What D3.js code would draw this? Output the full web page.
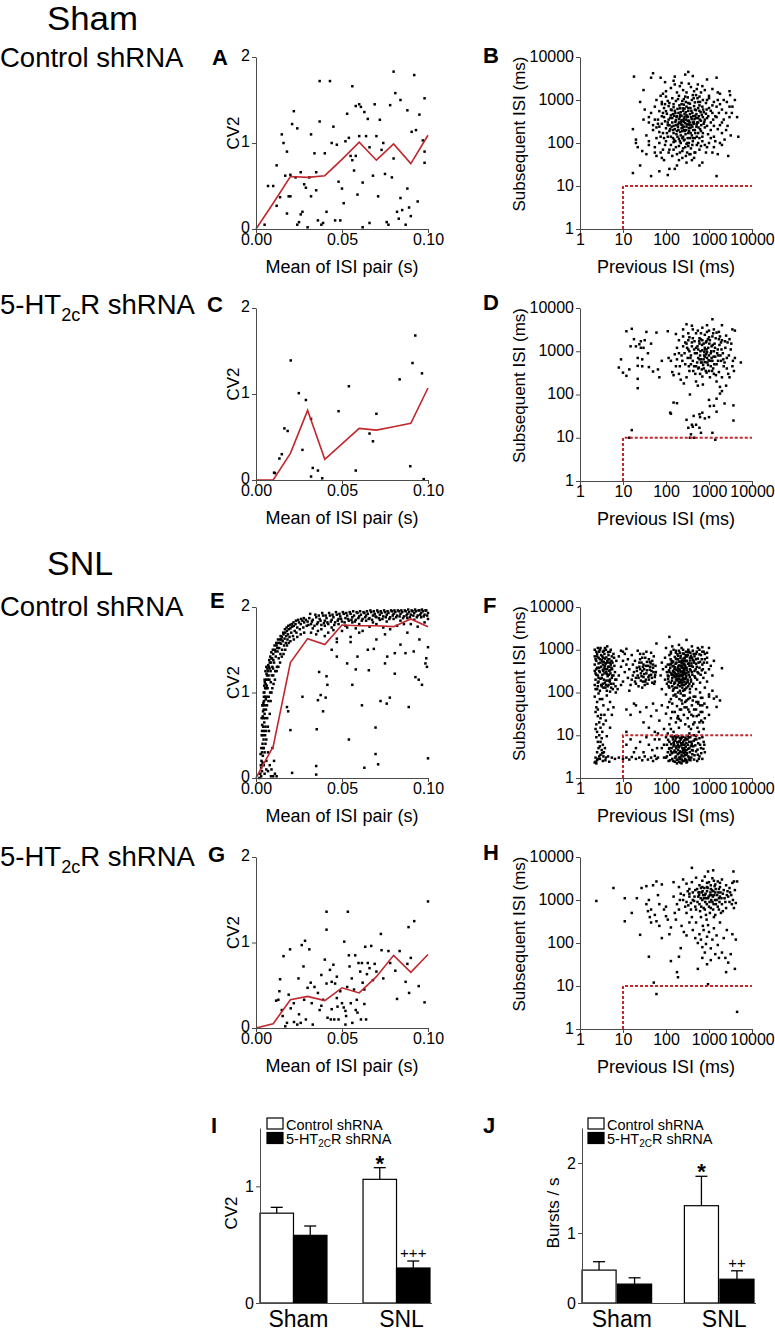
<!DOCTYPE html>
<html><head><meta charset="utf-8">
<script src="https://cdn.jsdelivr.net/npm/d3@7"></script>
<style>
body{margin:0;background:#fff;}
text{font-family:"Liberation Sans",Arial,Helvetica,sans-serif;}
</style></head><body>
<script>
// ---------------- DATA ----------------
const meanTicks = [0, 0.05, 0.1];
const cvTicks = [0, 1, 2];
const logTicks = [1, 10, 100, 1000, 10000];
const thresholdISI = 10; // ms, dashed red burst criterion

// Panel A: Sham, control shRNA (mean ISI pair s, CV2)
const shamCtrlCV2 = [[0.005,0.05],[0.007,0.5],[0.010,0.5],[0.012,0.27],[0.012,0.74],[0.014,0.37],[0.015,1.1],[0.016,1.0],[0.018,0.18],[0.018,0.9],[0.019,0.38],[0.020,0.38],[0.020,0.63],[0.021,1.22],[0.022,1.37],[0.023,0.6],[0.024,0.05],[0.024,1.17],[0.025,0.08],[0.026,0.66],[0.026,0.17],[0.027,0.2],[0.028,0.52],[0.029,0.48],[0.030,0.02],[0.031,0.6],[0.032,0.38],[0.032,1.1],[0.034,0.88],[0.035,0.66],[0.036,0.1],[0.037,1.25],[0.037,1.72],[0.038,0.05],[0.039,0.07],[0.040,0.88],[0.043,1.72],[0.044,1.0],[0.045,1.19],[0.046,0.1],[0.047,0.98],[0.048,0.55],[0.049,0.1],[0.050,0.47],[0.052,1.02],[0.053,1.34],[0.054,1.06],[0.055,0.85],[0.056,1.66],[0.056,0.8],[0.057,0.68],[0.058,1.43],[0.058,0.85],[0.059,0.4],[0.060,1.45],[0.060,1.08],[0.061,1.42],[0.062,0.54],[0.062,0.02],[0.063,1.36],[0.064,1.08],[0.065,1.28],[0.066,0.07],[0.068,0.62],[0.069,1.45],[0.070,1.08],[0.071,0.38],[0.072,1.27],[0.073,0.92],[0.074,1.0],[0.075,0.64],[0.076,0.08],[0.077,0.05],[0.078,1.44],[0.080,1.83],[0.080,0.82],[0.081,1.58],[0.082,0.2],[0.083,0.12],[0.084,1.5],[0.084,0.36],[0.085,0.22],[0.087,0.05],[0.088,1.38],[0.088,0.47],[0.089,0.25],[0.090,0.15],[0.0905,1.13],[0.092,1.79],[0.093,1.15],[0.094,0.32],[0.095,1.33],[0.097,1.03],[0.098,1.52],[0.098,0.9],[0.098,0.77],[0.079,0.6],[0.066,0.95],[0.051,0.3],[0.041,0.2],[0.035,0.45],[0.017,0.62]];
const shamCtrlLine = [[0,0],[0.01,0.3],[0.02,0.61],[0.03,0.6],[0.04,0.62],[0.05,0.81],[0.06,1.01],[0.07,0.8],[0.08,0.99],[0.09,0.76],[0.10,1.09]];

// Panel C: Sham, 5-HT2cR shRNA
const shamShCV2 = [[0.0105,0.085],[0.011,0.08],[0.0136,0.25],[0.015,0.30],[0.0165,0.60],[0.0184,0.57],[0.0202,1.39],[0.0249,1.01],[0.027,0.35],[0.029,0.93],[0.032,0.71],[0.032,0.04],[0.033,0.14],[0.036,0.11],[0.0385,0.02],[0.048,0.80],[0.054,1.09],[0.058,0.11],[0.066,0.54],[0.068,0.45],[0.070,0.77],[0.0835,1.17],[0.0897,0.16],[0.091,1.36],[0.0926,1.68],[0.0965,1.24],[0.0975,0.01]];
const shamShLine = [[0,0],[0.01,0],[0.02,0.31],[0.03,0.81],[0.04,0.24],[0.05,0.42],[0.06,0.6],[0.07,0.58],[0.08,0.62],[0.09,0.66],[0.10,1.07]];

// Panel E: SNL, control shRNA
const snlCtrlCV2 = [[0.002,0.0],[0.0025,0.05],[0.003,0.02],[0.003,0.12],[0.0032,0.2],[0.0035,0.08],[0.0035,0.3],[0.0038,0.4],[0.0038,0.18],[0.004,0.5],[0.004,0.26],[0.0042,0.6],[0.0042,0.35],[0.0044,0.7],[0.0044,0.45],[0.0045,0.8],[0.0046,0.55],[0.0047,0.9],[0.0048,0.65],[0.0049,1.0],[0.005,0.75],[0.005,0.3],[0.0052,0.85],[0.0053,1.05],[0.0054,0.95],[0.0055,0.6],[0.0056,1.1],[0.0058,0.8],[0.006,1.15],[0.006,0.45],[0.0062,0.95],[0.0064,1.2],[0.0065,0.7],[0.0067,1.05],[0.007,1.25],[0.0072,0.9],[0.0075,1.3],[0.0078,1.15],[0.008,1.35],[0.0082,1.0],[0.0085,1.25],[0.009,1.4],[0.0092,1.2],[0.0095,1.3],[0.01,1.45],[0.0102,1.1],[0.0105,1.35],[0.011,1.5],[0.0112,1.25],[0.0115,1.42],[0.012,1.55],[0.0122,1.3],[0.0125,1.48],[0.013,1.58],[0.0132,1.4],[0.0135,1.52],[0.014,1.62],[0.0142,1.45],[0.0145,1.57],[0.015,1.65],[0.0152,1.5],[0.0155,1.6],[0.016,1.68],[0.0163,1.55],[0.0166,1.63],[0.017,1.7],[0.0173,1.58],[0.0176,1.66],[0.018,1.72],[0.0183,1.62],[0.0186,1.68],[0.019,1.74],[0.0195,1.65],[0.02,1.75],[0.0205,1.7],[0.021,1.77],[0.0215,1.66],[0.022,1.78],[0.0225,1.72],[0.023,1.8],[0.0235,1.7],[0.024,1.76],[0.025,1.82],[0.0255,1.74],[0.026,1.8],[0.027,1.84],[0.0275,1.76],[0.028,1.82],[0.029,1.85],[0.0295,1.78],[0.03,1.83],
[0.006,0.1],[0.007,0.3],[0.0075,0.55],[0.008,0.75],[0.0085,0.9],[0.009,1.0],[0.0095,1.05],[0.01,1.2],[0.011,1.15],[0.012,1.25],[0.013,1.3],[0.014,1.35],[0.015,1.42],[0.016,1.45],[0.017,1.5],[0.018,1.55],[0.019,1.58],[0.02,1.6],[0.022,1.62],[0.024,1.65],[0.026,1.68],[0.028,1.7],[0.009,0.1],[0.01,0.02],[0.011,0.05],[0.008,0.15],[0.007,0.08],[0.0105,0.2],[0.0095,0.35],[0.005,0.05],[0.006,0.2],[0.0045,0.15],[0.0055,0.4],[0.0035,0.55],[0.004,0.85],[0.0045,1.0],[0.005,1.15],[0.0055,1.25],[0.006,1.3],
[0.0028,0.15],[0.0031,0.35],[0.0033,0.5],[0.0036,0.62],[0.0039,0.72],[0.0041,0.78],[0.0043,0.88],[0.0046,0.95],[0.0048,1.08],[0.0051,1.12],[0.0053,0.5],[0.0057,0.92],[0.0059,1.05],[0.0061,1.22],[0.0063,1.08],[0.0066,1.28],[0.0068,1.15],[0.0071,1.32],[0.0073,1.2],[0.0077,1.38],[0.0079,1.28],[0.0083,1.42],[0.0087,1.35],[0.0089,1.47],[0.0093,1.4],[0.0098,1.5],[0.0101,1.38],[0.0108,1.55],[0.0113,1.48],[0.0118,1.58],[0.0124,1.52],[0.0128,1.62],[0.0138,1.58],[0.0143,1.66],[0.0148,1.62],[0.0158,1.7],[0.0168,1.74],[0.0178,1.76],[0.0188,1.78],[0.0198,1.79],[0.0208,1.8],[0.0218,1.82],[0.0232,1.84],[0.0245,1.85],[0.0262,1.86],[0.0278,1.87],[0.0045,0.35],[0.0052,0.7],[0.0058,0.55],[0.0064,0.85],[0.0069,0.6],[0.0074,0.95],[0.0086,1.12],[0.0099,1.28],[0.0033,0.7],[0.0037,0.85],[0.0027,0.28],
[0.031,1.87],[0.032,1.8],[0.033,1.85],[0.034,1.78],[0.035,1.88],[0.036,1.82],[0.037,1.86],[0.038,1.79],[0.039,1.9],[0.04,1.84],[0.041,1.87],[0.042,1.8],[0.043,1.9],[0.044,1.85],[0.045,1.88],[0.046,1.82],[0.047,1.91],[0.048,1.86],[0.049,1.89],[0.05,1.83],[0.051,1.92],[0.052,1.87],[0.053,1.9],[0.054,1.84],[0.055,1.92],[0.056,1.88],[0.057,1.9],[0.058,1.85],[0.059,1.93],[0.06,1.89],[0.061,1.91],[0.062,1.86],[0.063,1.93],[0.064,1.9],[0.065,1.92],[0.066,1.87],[0.067,1.94],[0.068,1.9],[0.069,1.92],[0.07,1.88],[0.071,1.94],[0.072,1.91],[0.073,1.93],[0.074,1.89],[0.075,1.94],[0.076,1.91],[0.077,1.93],[0.078,1.88],[0.079,1.95],[0.08,1.92],[0.081,1.94],[0.082,1.9],[0.083,1.95],[0.084,1.92],[0.085,1.94],[0.086,1.89],[0.087,1.95],[0.088,1.92],[0.089,1.94],[0.09,1.91],[0.091,1.95],[0.092,1.93],[0.093,1.95],[0.094,1.9],[0.095,1.96],[0.096,1.93],[0.097,1.95],[0.098,1.91],[0.099,1.96],[0.1,1.93],
[0.0305,1.79],[0.0315,1.92],[0.0325,1.83],[0.0345,1.91],[0.0355,1.8],[0.0365,1.9],[0.0375,1.84],[0.0385,1.93],[0.0395,1.81],[0.0405,1.9],[0.0415,1.82],[0.0425,1.93],[0.0435,1.83],[0.0445,1.91],[0.0455,1.79],[0.0465,1.94],[0.0475,1.84],[0.0485,1.92],[0.0495,1.86],[0.0505,1.94],[0.0515,1.82],[0.0525,1.93],[0.0535,1.86],[0.0545,1.94],[0.0555,1.85],[0.0565,1.95],[0.0575,1.83],[0.0585,1.94],[0.0595,1.87],[0.0605,1.95],[0.0615,1.84],[0.0625,1.94],[0.0635,1.88],[0.0645,1.95],[0.0655,1.86],[0.0665,1.96],[0.0675,1.85],[0.0685,1.95],[0.0695,1.89],[0.0705,1.96],[0.0715,1.87],[0.0725,1.95],[0.0735,1.86],[0.0745,1.96],[0.0755,1.88],[0.0765,1.95],[0.0775,1.86],[0.0785,1.96],[0.0795,1.9],[0.0805,1.96],[0.0815,1.88],[0.0825,1.96],[0.0835,1.89],[0.0845,1.96],[0.0855,1.87],[0.0865,1.96],[0.0875,1.9],[0.0885,1.97],[0.0895,1.88],[0.0905,1.96],[0.0915,1.9],[0.0925,1.97],[0.0935,1.88],[0.0945,1.96],[0.0955,1.91],[0.0965,1.97],[0.0975,1.89],[0.0985,1.96],[0.0995,1.9],
[0.033,1.75],[0.036,1.72],[0.04,1.78],[0.044,1.76],[0.048,1.8],[0.052,1.78],[0.056,1.82],[0.06,1.8],[0.064,1.84],[0.068,1.82],[0.072,1.85],[0.076,1.83],[0.08,1.86],[0.084,1.84],[0.088,1.87],[0.092,1.85],[0.096,1.88],[0.1,1.86],[0.035,1.68],[0.042,1.7],[0.05,1.72],[0.058,1.75],[0.066,1.77],[0.074,1.76],[0.082,1.78],[0.09,1.8],[0.098,1.82],
[0.032,1.7],[0.038,1.74],[0.045,1.73],[0.053,1.76],[0.062,1.72],[0.07,1.8],[0.078,1.74],[0.086,1.8],[0.094,1.77],[0.04,1.66],[0.055,1.65],[0.06,1.7],[0.075,1.68],[0.088,1.7],[0.095,1.62],[0.07,1.62],[0.047,1.63],
[0.0087,0.02],[0.012,0.02],[0.021,0.06],[0.018,0.83],[0.020,0.56],[0.0187,0.78],[0.027,0.95],[0.035,0.14],[0.035,0.04],[0.0353,0.57],[0.0367,1.24],[0.0376,0.97],[0.036,0.91],[0.039,0.78],[0.0405,0.94],[0.041,1.19],[0.0415,1.09],[0.047,1.42],[0.053,1.34],[0.054,0.45],[0.056,1.09],[0.058,1.27],[0.059,1.42],[0.0616,0.85],[0.063,0.12],[0.065,1.5],[0.0656,1.26],[0.0695,0.28],[0.0695,0.59],[0.071,0.16],[0.0724,0.9],[0.075,1.34],[0.076,0.87],[0.0763,1.42],[0.0778,0.94],[0.0807,1.22],[0.0807,1.46],[0.0869,1.46],[0.0888,0.83],[0.0917,1.48],[0.0927,1.18],[0.0946,1.15],[0.0965,1.09],[0.0985,1.34],[0.0994,1.30],[0.1,0.23],[0.1,1.53],[0.099,1.4],[0.084,1.56],[0.0685,1.51],[0.055,1.59],[0.047,1.59],[0.044,1.5]];
const snlCtrlLine = [[0,0],[0.01,0.37],[0.02,1.35],[0.03,1.63],[0.04,1.56],[0.05,1.79],[0.06,1.78],[0.07,1.78],[0.08,1.77],[0.09,1.86],[0.10,1.77]];

// Panel G: SNL, 5-HT2cR shRNA
const snlShCV2 = [[0.014,0.57],[0.0136,0.43],[0.0117,0.32],[0.013,0.33],[0.015,0.21],[0.0155,0.14],[0.016,0.84],[0.017,0.02],[0.018,0.06],[0.0198,0.92],[0.019,0.39],[0.0202,0.23],[0.022,0.29],[0.0221,0.07],[0.024,0.04],[0.0247,0.58],[0.0266,0.97],[0.0276,0.72],[0.0285,1.02],[0.028,0.33],[0.029,0.10],[0.030,0.47],[0.031,0.92],[0.0318,0.53],[0.0324,0.29],[0.033,0.04],[0.036,0.41],[0.037,0.21],[0.038,0.26],[0.039,0.33],[0.040,0.80],[0.041,1.15],[0.041,1.36],[0.041,0.52],[0.0416,0.12],[0.043,0.68],[0.0435,0.10],[0.044,0.54],[0.045,0.74],[0.0455,0.10],[0.046,0.52],[0.047,0.60],[0.0474,0.25],[0.048,0.10],[0.049,0.43],[0.050,0.29],[0.051,0.24],[0.0513,1.01],[0.052,0.04],[0.0524,0.14],[0.053,0.48],[0.0534,1.36],[0.054,0.85],[0.0544,0.72],[0.0551,0.29],[0.0557,0.58],[0.056,0.06],[0.057,0.45],[0.0577,0.85],[0.058,0.21],[0.0586,0.33],[0.0596,0.76],[0.0606,0.66],[0.061,0.10],[0.0616,0.76],[0.062,0.53],[0.063,0.45],[0.0635,0.95],[0.064,0.10],[0.0645,0.63],[0.065,0.76],[0.066,0.70],[0.067,0.96],[0.068,0.56],[0.069,0.75],[0.070,0.66],[0.0726,1.10],[0.073,0.91],[0.074,0.58],[0.077,0.90],[0.078,0.76],[0.081,0.67],[0.082,0.34],[0.0835,0.90],[0.087,0.54],[0.088,0.75],[0.0887,1.18],[0.089,0.41],[0.090,0.82],[0.092,1.25],[0.0946,0.49],[0.098,0.30],[0.10,1.48],[0.026,0.06],[0.034,0.48],[0.044,0.22],[0.047,0.35],[0.052,0.2],[0.059,0.18],[0.063,0.28],[0.038,0.62],[0.025,0.16]];
const snlShLine = [[0,0],[0.01,0.05],[0.02,0.33],[0.03,0.37],[0.04,0.32],[0.05,0.47],[0.06,0.41],[0.07,0.6],[0.08,0.85],[0.09,0.65],[0.10,0.86]];

// Panel B: Sham control, previous vs subsequent ISI (ms)
const shamCtrlISI = [[18,3500],[50,4200],[30,1700],[45,3300],[75,3300],[85,1400],[95,2600],[150,2800],[160,3500],[230,2500],[280,3900],[330,4500],[420,3600],[550,2300],[700,2100],[900,3000],[1500,3300],[3000,1600],[3100,1300],[3500,700],[4500,400],[4800,140],[3200,150],[2500,200],[2800,50],[2000,90],[1500,17],[600,30],[700,35],[120,25],[110,18],[70,22],[45,17],[25,30],[17,20],[17,210],[20,100],[20,120],[22,80],[28,65],[35,55],[40,90],[25,900],[32,600],[40,400],[30,350],[55,60],[60,50],[80,45],[90,40],[180,30],[160,25],[240,45],[350,55],[480,60],[900,80],[1200,60],[1800,100],[2300,120],[3000,400],[2600,900],[1800,1400],[1200,1800],[1000,1100],[2000,300],[1700,500],[1300,250],[2700,250],[4000,1000],[3400,500],
[100,1600],[130,1900],[180,1500],[210,2100],[250,1700],[300,1500],[380,2000],[450,1600],[520,1800],[650,1500],[800,1700],[160,2300],[340,2400],[420,1300],[600,1200],
[60,1000],[80,900],[100,1200],[120,850],[140,1100],[170,950],[200,1250],[230,800],[260,1050],[290,900],[320,1150],[360,820],[400,1000],[470,880],[540,1100],[620,900],[720,1000],[850,850],[1000,1250],[1300,900],[1600,1000],[75,1250],[190,1050],[280,1200],[500,1300],
[45,500],[55,700],[70,550],[90,650],[105,480],[115,720],[135,580],[150,680],[165,500],[185,620],[205,750],[220,520],[245,640],[270,480],[300,700],[330,560],[370,650],[410,500],[450,720],[500,580],[560,650],[640,520],[730,600],[850,480],[1000,650],[1200,500],[1500,700],[2000,600],[3000,700],[80,800],[260,780],[600,750],
[40,300],[55,350],[65,280],[80,420],[95,320],[110,260],[125,380],[140,300],[155,430],[170,340],[190,270],[210,400],[225,310],[240,260],[260,370],[280,290],[300,440],[320,330],[350,260],[380,400],[420,300],[460,360],[520,270],[580,420],[650,330],[750,280],[900,380],[1100,300],[1400,420],[1800,260],[2200,350],[130,440],[200,360],[270,410],[340,330],[480,430],
[35,150],[50,200],[60,130],[70,240],[85,170],[100,220],[110,140],[120,190],[135,240],[145,130],[160,210],[175,160],[190,235],[200,125],[215,180],[230,220],[250,140],[265,200],[285,160],[300,240],[320,130],[345,190],[370,225],[400,150],[430,200],[470,130],[510,240],[560,170],[620,210],[700,140],[800,230],[950,160],[1100,200],[1300,140],[1600,210],[2000,170],[150,170],[180,190],[220,150],[260,240],[330,170],[90,130],[240,190],
[40,110],[55,80],[70,100],[85,70],[100,110],[115,60],[130,90],[150,70],[165,110],[180,55],[200,85],[220,100],[240,65],[260,115],[280,80],[310,60],[340,100],[380,75],[420,110],[460,60],[520,90],[600,70],[700,110],[850,60],[1000,100],[1300,80],[1600,55],[150,105],[300,95],
[110,300],[125,210],[140,380],[150,250],[165,310],[180,420],[195,200],[205,290],[215,450],[230,340],[245,230],[260,310],[275,190],[290,350],[305,270],[320,410],[340,220],[355,300],[375,170],[395,360],[410,240],[440,310],[470,200],[500,380],[530,300],[570,230],[610,350],[660,260],[720,400],[780,310],
[105,170],[120,260],[130,140],[145,200],[155,120],[170,260],[185,140],[200,300],[210,110],[225,270],[240,130],[255,330],[270,120],[295,200],[315,100],[335,280],[360,130],[390,260],[420,130],[450,280],[480,170],[520,140],[560,300],[600,130],[650,190],[720,170],[800,350],[900,250],
[90,400],[100,550],[115,350],[130,600],[145,470],[160,560],[175,400],[195,500],[210,640],[230,430],[250,560],[270,630],[290,520],[310,400],[330,650],[360,470],[390,560],[430,420],[470,600],[510,470],[550,380],[600,560],[680,450],[760,520],[880,600],[960,420],[1100,560],[1250,350],
[70,180],[80,280],[60,230],[75,140],[65,350],[50,260],[85,500],[95,800],[110,950],[150,800],[240,950],[330,850],[440,1100],[560,900],[700,700],[900,1000],[1200,750],[1500,400],[1800,800],[2500,500],[2200,1000],[1600,1500],
[120,70],[140,50],[170,80],[210,60],[250,75],[290,50],[330,85],[370,55],[410,90],[450,45],[95,90],[75,60],[560,100],[650,85],[800,90],[1100,130],[1400,110],[400,40],[300,35],[200,40]];

// Panel D: Sham 5-HT2cR shRNA
const shamShISI = [[8,420],[9,650],[10,320],[12,270],[14,380],[12,2900],[16,3300],[18,1900],[15,1300],[20,1300],[24,1450],[26,1200],[22,700],[28,650],[22,460],[28,450],[26,1700],[32,1800],[35,2800],[40,430],[22,230],[22,140],[16,15],[14,10],[65,380],[50,340],[30,1200],[45,1500],[60,2700],[38,900],[70,250],[80,600],[110,2900],[115,700],[130,600],[140,330],[150,280],[130,36],[125,38],[150,65],
[170,2500],[200,1800],[250,2200],[300,1500],[330,2600],[300,4200],[400,3900],[420,3200],[500,2600],[600,2000],[700,1800],[800,2400],[900,2800],[1000,2100],[1200,5500],[1300,3200],[1500,2700],[1800,2200],[2000,1800],[2500,2300],[3000,1900],[3500,3200],[4000,3000],[5500,550],[4000,700],[3500,450],[3000,250],[2500,160],[2000,120],[1800,150],[1500,200],[250,1300],[200,900],[180,650],[170,450],[200,300],[220,220],[260,180],[300,250],[350,350],[280,500],[320,700],[350,1000],[400,1300],[380,800],[420,600],[450,450],[480,300],[500,200],[550,160],[520,900],[560,1100],[600,1500],[620,800],[650,550],[680,380],[700,260],[720,170],[750,650],[780,950],[800,1200],[850,1600],[900,700],[950,480],[1000,350],[1050,250],[1100,900],[1150,1300],[1200,600],[1250,400],[1300,1000],[1400,750],[1500,500],[1600,1100],[1700,330],[1900,600],[2100,900],[2200,450],[2400,1200],[2600,700],[2800,300],[3200,1100],[3600,600],[420,2000],[460,1700],[540,1300],[580,420],[640,1900],[700,1050],[760,400],[820,560],[880,320],[940,1900],[980,620],[1100,450],[1200,2200],[1350,1500],[1450,280],[1650,800],[1900,1600],[2300,550],[2700,1600],[330,1800],[380,500],[450,1100],[620,300],[860,850],[1020,1500],[1150,700],[1300,300],[1700,1900],[2000,250],[700,3500],[900,4000],[250,3200],[180,1200],[160,850],[560,700],[880,1100],
[240,600],[270,900],[310,1200],[340,450],[370,700],[400,1600],[430,350],[470,900],[500,1200],[530,550],[560,400],[590,1700],[630,1000],[660,650],[690,1400],[730,480],[770,800],[810,1100],[840,350],[870,1700],[920,550],[960,1200],[1000,800],[1050,1800],[1080,600],[1130,1000],[1180,350],[1220,1400],[1280,750],[1330,500],[1380,1200],[1430,2000],[1550,900],[1620,600],[1750,1400],[1850,800],[1950,1100],[2150,650],[2350,1700],[2600,400],[2900,800],[3300,1500],[3800,350],[1700,2800],[1250,2600],[500,450],[600,650],[700,550],[800,750],[900,950],[750,1500],[650,2600],[1000,3000],[2000,4000],[550,3000],[350,2100],[280,1600],[230,800],[210,450],[330,1100],
[360,100],[180,63],[300,26],[440,32],[330,17],[400,20],[420,18],[500,20],[620,30],[600,35],[700,38],[450,10],[360,10],[1000,75],[1050,54],[1300,55],[1800,105],[2300,62],[3700,56],[3700,25],[1500,40],[1000,30],[600,17],[1400,9],[1200,13],[800,28],[650,13],[380,12],[1500,80]];

// Panel F: SNL control shRNA
const snlCtrlISI = [[2.2,1000],[2.5,800],[2.3,600],[2.8,900],[3,1100],[3.3,700],[3.6,950],[4,1000],[4.3,1200],[5,900],[5.5,700],[6,800],[2.2,450],[2.4,350],[2.6,250],[2.3,200],[2.2,150],[2.5,120],[2.7,180],[2.9,300],[3.1,400],[3.2,220],[3.4,160],[3.5,130],[3.7,280],[3.9,350],[4.1,190],[4.2,110],[4.4,240],[4.6,150],[4.8,320],[5,200],[5.3,130],[5.6,250],[6,160],[6.5,300],[7,200],[2.4,550],[2.7,650],[3,500],[3.2,580],[3.4,450],[3.6,520],[3.8,620],[4,480],[4.3,550],[4.5,400],[4.8,600],[5.2,450],[5.7,500],[6.3,420],[7,550],[2.6,140],[2.9,110],[3.3,260],[3.8,170],[4.4,140],[5,105],[5.8,120],[6.7,140],[2.3,280],[2.8,380],[3.5,320],[4.7,260],[5.4,380],[6,250],[2.5,700],[3.7,800],[4.6,750],[5.4,550],[3.1,150],[4.1,300],[4.9,180],[2.7,220],[3.9,130],[6.8,100],[5.1,280],[3.4,900],[2.9,1000],[4.5,880],
[2.3,120],[2.6,170],[2.4,260],[2.8,320],[3,210],[3.2,140],[3.4,340],[3.6,200],[3.8,420],[4,150],[4.2,270],[4.4,500],[4.6,190],[4.8,400],[5,330],[5.2,160],[5.5,220],[2.5,380],[2.7,480],[2.9,600],[3.1,750],[3.3,530],[3.5,650],[3.7,380],[3.9,480],[4.1,660],[4.3,350],[4.6,600],[5,500],[5.6,350],[2.4,900],[2.6,1100],[3.8,1100],[5.2,1000],[6.2,650],[6.6,200],[2.2,320],[2.2,700],
[2.2,80],[2.5,60],[2.4,45],[2.3,35],[2.6,28],[2.8,20],[3,15],[2.5,12],[2.4,9],[2.6,7],[2.8,10],[3.2,8.5],[3.3,12],[3,25],[3.5,18],[3.7,30],[4,22],[4.5,40],[5,60],[3.5,50],[2.7,95],[3.3,70],[4.2,85],[5.5,30],[4.2,9.5],[3.8,5],[3.4,6],[2.9,5.5],[2.5,4],[2.3,3],[2.2,2.3],[2.3,2.4],[2.5,2.6],[2.6,2.8],[2.8,3.2],[3,3.5],[3.3,3.8],[3.6,4],[3.5,3.2],[4.5,3.2],[5.5,3],[4,3],[2.4,2.2],[5,15],[6,45],
[2.4,18],[2.6,40],[2.9,70],[3.1,30],[2.3,14],[2.7,5],[3,7],[3.2,4.5],[2.9,2.8],[3.4,2.5],[3.9,2.6],[4.8,2.4],[6.5,2.8],[8,3],
[8,250],[9,400],[10,180],[11,300],[12,1050],[13,220],[8,700],[10,550],[12,450],[14,350],[9,150],[11,800],[15,150],[7.5,120],[13,600],[10,900],[14,110],[9,950],
[16,200],[18,300],[20,160],[22,250],[24,400],[26,190],[28,320],[30,230],[32,150],[35,280],[38,420],[40,200],[42,340],[45,260],[48,170],[50,380],[55,230],[58,300],[17,450],[19,550],[21,380],[25,600],[27,500],[30,450],[33,650],[36,520],[40,600],[44,480],[48,550],[52,700],[20,220],[23,140],[26,280],[29,180],[31,350],[34,200],[37,160],[41,250],[46,320],[53,160],[57,420],[60,1400],[25,800],[35,900],[45,850],[16,750],[22,950],[30,800],[55,180],[28,130],
[17,250],[19,180],[21,320],[23,220],[25,350],[27,240],[29,400],[31,270],[33,180],[36,330],[39,230],[43,400],[47,220],[51,300],[56,260],[24,500],[28,650],[34,420],[42,520],[50,450],
[120,2000],[300,1700],[100,1100],[130,900],[150,1000],[170,850],[200,950],[230,1100],[260,800],[290,900],[330,1000],[370,850],[420,950],[500,800],[600,1000],[750,900],[900,850],[1000,1100],[200,1300],[400,1200],[550,1100],[140,1200],[700,1150],
[80,500],[95,650],[110,450],[120,750],[135,550],[150,420],[160,680],[175,500],[190,600],[205,430],[220,720],[240,520],[255,620],[270,450],[290,700],[310,550],[340,480],[360,650],[390,420],[420,580],[460,700],[500,470],[550,620],[620,520],[700,450],[800,600],[900,500],[1100,420],[1300,550],[130,470],[185,780],[230,420],[280,560],[450,500],[650,750],[100,400],[170,620],[320,760],[210,530],[260,440],
[75,250],[85,350],[95,200],[105,300],[115,180],[125,380],[135,260],[145,320],[155,160],[165,230],[175,340],[185,190],[195,280],[205,360],[215,170],[225,250],[235,310],[245,200],[255,380],[265,150],[275,270],[290,220],[305,330],[320,180],[340,260],[360,350],[380,200],[400,300],[430,160],[460,240],[490,350],[530,200],[570,280],[620,170],[680,330],[740,220],[820,290],[900,180],[1000,350],[1200,250],[140,220],[160,290],[180,250],[200,210],[220,300],[240,170],[160,390],[210,240],[250,290],[190,150],[130,170],[110,250],[280,370],[350,160],[2000,370],[150,260],[170,200],[190,320],[230,190],[260,330],[120,300],[200,170],[240,240],[300,280],[140,140],
[105,160],[112,210],[118,330],[124,450],[128,600],[133,280],[138,190],[142,410],[147,530],[152,240],[157,350],[162,170],[167,470],[172,270],[177,600],[182,210],[187,380],[192,720],[197,240],[202,520],[207,180],[212,330],[217,640],[222,260],[227,410],[232,150],[237,560],[242,300],[247,820],[252,220],[257,470],[262,350],[267,180],[272,650],[277,290],[282,420],[287,160],[292,540],[297,240],[302,380],[310,700],[318,200],[326,470],[334,300],[342,900],[350,420],[358,230],[366,560],[374,330],[382,180],[390,480],[400,650],[410,260],[420,400],[440,550],[460,320],[480,220],[500,600],[520,400],[540,300],[570,500],[600,380],[640,260],[680,600],[720,350],[760,500],[120,130],[150,120],[180,130],[210,110],[240,130],[270,115],[300,170],[330,140],[360,120],[130,820],[170,950],[210,850],[250,1000],[290,750],[330,880],[380,720],[440,800],[520,900],[600,780],[700,900],[800,800],[900,650],
[160,170],[175,240],[190,330],[205,250],[220,200],[235,380],[250,260],[265,330],[280,210],[195,420],[230,480],[265,540],[150,300],[140,500],[115,240],
[80,120],[100,90],[115,140],[130,70],[145,110],[160,130],[175,80],[190,100],[210,140],[230,65],[250,110],[270,85],[300,130],[330,70],[360,100],[400,140],[440,80],[500,120],[560,60],[620,100],[700,75],[800,130],[1000,90],[1200,110],[1500,80],[1800,65],[150,85],[220,95],[280,120],
[20,50],[25,35],[30,20],[35,45],[40,15],[45,28],[50,55],[55,12],[60,38],[70,22],[80,50],[90,14],[100,32],[110,45],[120,18],[130,25],[140,55],[150,12],[160,35],[170,20],[180,48],[190,28],[200,15],[210,40],[220,22],[240,55],[260,30],[280,18],[300,45],[320,25],[350,35],[380,14],[400,50],[430,28],[460,20],[500,40],[540,15],[580,30],[620,50],[660,22],[700,35],[750,14],[800,25],[900,45],[1000,30],[1500,46],[1300,72],[1000,80],[12,12],[15,30],[18,55],[12,40],[65,11],[110,11],[350,11],
[120,60],[140,35],[165,90],[185,25],[205,70],[225,40],[250,85],[270,45],[300,65],[330,40],[360,75],[390,30],[420,65],[450,40],[480,80],[520,28],[560,55],[600,20],[650,75],[700,50],[130,14],[200,24],[280,60],[340,16],[430,18],[510,60],[580,12],[640,35],[720,20],[780,55],
[70,8],[80,5],[90,3],[100,9],[105,6],[110,4],[115,2.5],[120,7],[125,3.5],[130,9.5],[135,5],[140,2.8],[145,8],[150,4],[155,6],[160,2.4],[165,7.5],[170,3.2],[175,5.5],[180,9],[185,2.6],[190,4.5],[195,7],[200,3],[205,5.5],[210,8.5],[215,2.3],[220,4],[225,6.5],[230,3.4],[235,9],[240,5],[245,2.5],[250,7],[260,3.8],[270,6],[280,2.8],[290,8],[300,4.5],[310,2.4],[320,6],[330,3.2],[340,9],[350,5],[370,2.6],[390,7],[410,3.6],[430,5.5],[450,2.7],[470,8],[500,4.2],[530,2.5],[560,6.5],[600,3.2],[650,5],[700,2.8],[750,7],[800,4],[700,9],[600,8.5],[500,9.5],[180,2.2],[230,2.2],[300,2.3],[150,5.5],[250,4.5],[190,6],[130,4.2],[350,3],[280,4],[210,2.8],[160,9.5],[120,5],[100,3],[400,4.5],[550,3.5],[90,6],[450,10],[320,9.5],
[105,3.2],[112,7.8],[118,4.8],[125,2.6],[132,6.2],[138,3.8],[143,9],[148,2.5],[153,7],[158,4.4],[163,3],[168,8.5],[173,5],[178,2.7],[183,6.8],[188,3.6],[193,9.5],[198,5.2],[203,2.4],[208,7.2],[213,4.2],[218,3.1],[223,8],[228,5.8],[233,2.7],[238,6.2],[243,4],[248,9.2],[253,3.2],[258,6],[263,2.5],[268,7.6],[273,4.6],[278,3.4],[283,8.8],[288,5.4],[293,2.6],[298,6.6],[308,3.8],[318,8],[328,4.8],[338,2.7],[348,7],[358,4],[368,9],[378,5.6],[388,3],[398,6.2],[420,4.4],[440,7.4],[460,3.4],[480,5.8],[510,8],[540,4.6],[580,2.8],[620,6],[660,3.8],[740,4.8],[780,6],[200,3.8],[260,5],[150,6.5],[300,3.5],[230,8.8],[170,4],
[10,2.8],[12,3],[14,2.7],[16,3.1],[20,2.8],[24,3],[28,2.6],[32,3.2],[38,2.7],[45,3],[50,2.5],[55,3.3],[60,2.8],[65,3],[12,6],[15,8],[20,5],[25,7],[30,4],[35,9],[40,6],[48,4.5],[55,8],[62,5],[18,4]];

// Panel H: SNL 5-HT2cR shRNA
const snlShISI = [[2.4,950],[6,1900],[11,1100],[11,320],[16,500],[21,1100],[27,1900],[35,2100],[25,155],[40,1000],[45,600],[50,2200],[60,2700],[35,800],[38,550],[42,400],[55,450],[60,320],[70,250],[45,300],[65,1300],[80,2300],[90,600],[100,420],[110,350],[120,160],[130,230],[100,700],[70,800],[80,130],[40,48],[52,12],[60,6.5],[180,21],[190,16],[200,48],[220,76],[950,11],[4500,2.5],[2500,21],[4000,25],[3800,2700],
[400,5600],[950,4600],[1250,4900],[3700,4600],[4500,2700],[150,2600],[200,2000],[250,3000],[300,2400],[350,1800],[400,2600],[500,3300],[600,2200],[700,2800],[800,3500],[900,2000],[1000,2600],[1200,3200],[1400,2300],[1600,2700],[1800,2000],[2000,3000],[2500,2200],[3000,1900],[3500,2500],[4000,1700],[150,1200],[180,800],[200,600],[220,1400],[250,1000],[280,700],[300,500],[320,1600],[350,1200],[380,850],[400,400],[420,1500],[450,950],[480,700],[500,300],[530,1800],[560,1200],[600,800],[620,550],[650,400],[680,1500],[700,1000],[720,250],[750,650],[780,1900],[800,1300],[820,900],[850,450],[880,350],[900,1600],[950,1100],[1000,700],[1050,500],[1100,1800],[1150,1300],[1200,900],[1250,600],[1300,400],[1350,2100],[1400,1500],[1500,1000],[1600,700],[1700,1800],[1800,1200],[1900,500],[2000,800],[2100,1400],[2300,1100],[2500,650],[2700,1600],[3000,900],[3300,1300],[3600,1000],[4200,850],[3800,650],[170,350],[230,250],[260,180],[300,150],[350,300],[420,200],[480,130],[550,100],[600,160],[650,120],[700,80],[750,200],[800,60],[850,95],[900,140],[950,260],[1000,180],[1100,75],[1200,120],[1300,220],[1400,55],[1500,150],[1600,90],[1700,45],[1800,300],[2000,60],[2200,130],[2400,45],[2600,200],[2800,35],[3200,55],[3500,160],[4200,120],[1100,40],[900,32],[700,45],[550,25],[130,38],[160,500],[210,1000],[330,750],[460,1200],[570,1500],[640,1100],[730,1300],[860,1100],[1050,1300],[1250,1600],[1450,800],[1700,1100],[2400,900],[2800,1200],[1100,2200],[650,1900],
[350,1400],[420,1000],[480,1700],[540,900],[590,1300],[660,700],[710,1600],[760,1100],[830,1400],[890,800],[930,1900],[980,1200],[1030,900],[1080,1500],[1130,1000],[1180,1700],[1230,1200],[1280,800],[1330,1300],[1380,1000],[1430,1800],[1550,1300],[1650,1500],[1750,900],[1850,1500],[1950,1100],[2200,1700],[2600,1300],[3100,1500],[3400,800],[900,2500],[1300,2800],[1800,2500],[700,2000],[600,1500],[800,600],[1100,650],[1400,450],[1700,600],[2100,550],[500,600],[380,600],[300,900],[260,1300]];

// Panels I, J: bar summaries
const barGroups = ["Sham", "SNL"];
const barSeries = ["Control shRNA", "5-HT2CR shRNA"];
const cv2Control = [0.77, 1.06];
const cv2ControlSem = [0.05, 0.10];
const cv2Sh = [0.58, 0.30];
const cv2ShSem = [0.08, 0.06];
const burstControl = [0.47, 1.39];
const burstControlSem = [0.12, 0.42];
const burstSh = [0.27, 0.34];
const burstShSem = [0.09, 0.12];

// ---------------- DRAWING ----------------
const FONT = '"Liberation Sans", Arial, Helvetica, sans-serif';
const AX = "#4a4a4a";
const RED = "#c1272d";
const svg = d3.select("body").append("svg").attr("width", 775).attr("height", 1334).style("display","block");

function styleAxis(g){
  g.selectAll("path,line").attr("stroke", AX).attr("stroke-width", 1);
  g.selectAll("text").attr("fill", "#000").style("font-size", "16px").style("font-family", FONT);
}
function txt(x, y, s, size, opt = {}){
  const t = svg.append("text").attr("x", x).attr("y", y).text(s)
    .style("font-size", size + "px").style("font-family", FONT).attr("fill", "#000");
  if (opt.bold) t.style("font-weight", "bold");
  if (opt.anchor) t.attr("text-anchor", opt.anchor);
  if (opt.len) t.attr("textLength", opt.len).attr("lengthAdjust", "spacingAndGlyphs");
  return t;
}
function rotTxt(x, y, s, size){
  return svg.append("text").attr("transform", `translate(${x},${y}) rotate(-90)`)
    .attr("text-anchor", "middle").text(s).style("font-size", size + "px").style("font-family", FONT);
}
function htLabel(x, y, size){
  const t = svg.append("text").attr("x", x).attr("y", y).style("font-size", size + "px").style("font-family", FONT);
  t.append("tspan").text("5-HT");
  t.append("tspan").text("2c").style("font-size", (size*0.66) + "px").attr("dy", size*0.25);
  t.append("tspan").text("R shRNA").attr("dy", -size*0.25);
}
function dots(pts, x, y){
  svg.append("g").selectAll("rect").data(pts).join("rect")
    .attr("x", d => x(d[0]) - 1.25).attr("y", d => y(d[1]) - 1.25)
    .attr("width", 2.5).attr("height", 2.5).attr("fill", "#000");
}

function cvPanel(top, bottom, pts, line){
  const x = d3.scaleLinear().domain([0, 0.1]).range([256, 428]);
  const y = d3.scaleLinear().domain([0, 2]).range([bottom, top]);
  dots(pts, x, y);
  svg.append("path").datum(line).attr("fill", "none").attr("stroke", RED).attr("stroke-width", 1.6)
    .attr("d", d3.line().x(d => x(d[0])).y(d => y(d[1])));
  svg.append("g").attr("transform", `translate(0,${bottom})`)
    .call(d3.axisBottom(x).tickValues(meanTicks).tickFormat(d3.format(".2f")).tickSize(4).tickSizeOuter(0).tickPadding(1)).call(styleAxis);
  svg.append("g").attr("transform", "translate(256,0)")
    .call(d3.axisLeft(y).tickValues(cvTicks).tickFormat(d3.format("d")).tickSize(4).tickSizeOuter(0).tickPadding(2)).call(styleAxis)
    .selectAll(".tick text").attr("dy", "0.22em");
  txt(342, bottom + 44, "Mean of ISI pair (s)", 18, {anchor: "middle"});
  rotTxt(239, (top + bottom) / 2 - 10, "CV2", 17);
}

function isiPanel(top, bottom, pts){
  const x = d3.scaleLog().domain([1, 10000]).range([580, 752]);
  const y = d3.scaleLog().domain([1, 10000]).range([bottom, top]);
  dots(pts, x, y);
  svg.append("path").datum([[thresholdISI, 1], [thresholdISI, thresholdISI], [10000, thresholdISI]])
    .attr("fill", "none").attr("stroke", RED).attr("stroke-width", 2).attr("stroke-dasharray", "3,2")
    .attr("d", d3.line().x(d => x(d[0])).y(d => y(d[1])));
  svg.append("g").attr("transform", `translate(0,${bottom})`)
    .call(d3.axisBottom(x).tickValues(logTicks).tickFormat(d3.format("d")).tickSize(4).tickSizeOuter(0).tickPadding(1)).call(styleAxis);
  svg.append("g").attr("transform", "translate(580,0)")
    .call(d3.axisLeft(y).tickValues(logTicks).tickFormat(d3.format("d")).tickSize(4).tickSizeOuter(0).tickPadding(2)).call(styleAxis)
    .selectAll(".tick text").attr("dy", "0.25em");
  txt(666, bottom + 44, "Previous ISI (ms)", 18, {anchor: "middle"});
  rotTxt(525, (top + bottom) / 2 - 9, "Subsequent ISI (ms)", 17);
}

function barPanel(cfg){
  const x0 = d3.scaleBand().domain(barGroups).range([cfg.left, cfg.right]).paddingInner(cfg.pad).paddingOuter(0);
  const x1 = d3.scaleBand().domain(barSeries).range([0, x0.bandwidth()]).paddingInner(cfg.subPad);
  const y = d3.scaleLinear().domain([0, cfg.max]).range([1303, 1128]);
  const rows = barGroups.map((g, i) => [
    {g, s: barSeries[0], v: cfg.ctrl[i], e: cfg.ctrlSem[i], fill: "#fff"},
    {g, s: barSeries[1], v: cfg.sh[i], e: cfg.shSem[i], fill: "#000"}
  ]).flat();
  const bx = d => x0(d.g) + x1(d.s);
  const eg = svg.append("g").attr("stroke", "#000").attr("stroke-width", 1.3);
  rows.forEach(d => {
    const cx = bx(d) + x1.bandwidth() / 2;
    eg.append("line").attr("x1", cx).attr("x2", cx).attr("y1", y(d.v)).attr("y2", y(d.v + d.e));
    eg.append("line").attr("x1", cx - 6).attr("x2", cx + 6).attr("y1", y(d.v + d.e)).attr("y2", y(d.v + d.e));
  });
  svg.append("g").selectAll("rect").data(rows).join("rect")
    .attr("x", d => bx(d)).attr("y", d => y(d.v)).attr("width", x1.bandwidth()).attr("height", d => y(0) - y(d.v))
    .attr("fill", d => d.fill).attr("stroke", "#000").attr("stroke-width", 1.2);
  svg.append("g").attr("transform", `translate(${cfg.left},0)`)
    .call(d3.axisLeft(y).tickValues(cfg.ticks).tickFormat(d3.format("d")).tickSize(4).tickSizeOuter(0).tickPadding(2)).call(styleAxis);
  svg.append("line").attr("x1", cfg.left).attr("x2", cfg.right + 2).attr("y1", 1303.5).attr("y2", 1303.5).attr("stroke", AX);
  barGroups.forEach(g => txt(x0(g) + x0.bandwidth() / 2 + 5, 1327, g, 23, {anchor: "middle"}));
  const snlC = rows[2], snlS = rows[3];
  txt(bx(snlC) + x1.bandwidth() / 2, y(snlC.v + snlC.e) + 3, "*", 22, {anchor: "middle", bold: true});
  txt(bx(snlS) + x1.bandwidth() / 2, y(snlS.v + snlS.e) - 3, cfg.mark, 15, {anchor: "middle"});
  const lx = cfg.legX;
  svg.append("rect").attr("x", lx).attr("y", 1118).attr("width", 16).attr("height", 11).attr("fill", "#fff").attr("stroke", "#000").attr("stroke-width", 1.2);
  svg.append("rect").attr("x", lx).attr("y", 1132.5).attr("width", 16).attr("height", 11).attr("fill", "#000").attr("stroke", "#000").attr("stroke-width", 1.2);
  txt(lx + 19, 1129.5, "Control shRNA", 14.5);
  const t = svg.append("text").attr("x", lx + 19).attr("y", 1144).style("font-size", "14.5px").style("font-family", FONT);
  t.append("tspan").text("5-HT");
  t.append("tspan").text("2C").style("font-size", "10px").attr("dy", 3);
  t.append("tspan").text("R shRNA").attr("dy", -3);
  rotTxt(cfg.left - 23, 1213, cfg.ylab, 17);
}

// Left labels
txt(47, 30, "Sham", 33, {len: 91});
txt(0, 67, "Control shRNA", 27.5);
htLabel(0, 314, 27.5);
txt(47, 575, "SNL", 33, {len: 66});
txt(0, 616, "Control shRNA", 27.5);
htLabel(0, 866, 27.5);

// Panel letters
[["A",212,65],["B",483,63],["C",207,312],["D",483,310],["E",210,608],["F",483,613],["G",208,862],["H",483,860],["I",211,1133],["J",483,1133]]
  .forEach(([l, x, y]) => txt(x, y, l, 22, {bold: true}));

cvPanel(57, 229, shamCtrlCV2, shamCtrlLine);
isiPanel(57, 229, shamCtrlISI);
cvPanel(308, 480, shamShCV2, shamShLine);
isiPanel(308, 481, shamShISI);
cvPanel(607, 778, snlCtrlCV2, snlCtrlLine);
isiPanel(607, 778, snlCtrlISI);
cvPanel(857, 1028, snlShCV2, snlShLine);
isiPanel(857, 1029, snlShISI);

barPanel({left: 260, right: 430, pad: 0.35, subPad: 0, max: 1.5, ticks: [0, 1],
  ctrl: cv2Control, ctrlSem: cv2ControlSem, sh: cv2Sh, shSem: cv2ShSem, mark: "+++", legX: 267, ylab: "CV2"});
barPanel({left: 582, right: 754, pad: 0.32, subPad: 0.04, max: 2.5, ticks: [0, 1, 2],
  ctrl: burstControl, ctrlSem: burstControlSem, sh: burstSh, shSem: burstShSem, mark: "++", legX: 588, ylab: "Bursts / s"});
</script></body></html>
